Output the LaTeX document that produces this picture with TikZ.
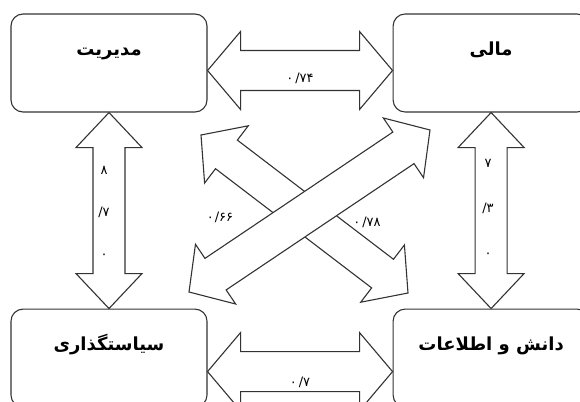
\documentclass[tikz,border=0pt]{standalone}
\usepackage{fontspec}
\usepackage{tikz}
\usetikzlibrary{positioning, calc}
\newfontfamily\arabicfont[Script=Arabic]{DejaVu Sans}
\TeXXeTstate=1

% hollow two-headed block arrow: ends #1 #2, head length #3,
% head half width #4, shaft half width #5
\newcommand{\blockarrow}[5]{%
  \draw[blk] (#1)
    -- ($(#1)!#3!(#2)!#4!90:(#2)$)
    -- ($(#1)!#3!(#2)!#5!90:(#2)$)
    -- ($(#2)!#3!(#1)!#5!-90:(#1)$)
    -- ($(#2)!#3!(#1)!#4!-90:(#1)$)
    -- (#2)
    -- ($(#2)!#3!(#1)!#4!90:(#1)$)
    -- ($(#2)!#3!(#1)!#5!90:(#1)$)
    -- ($(#1)!#3!(#2)!#5!-90:(#2)$)
    -- ($(#1)!#3!(#2)!#4!-90:(#2)$)
    -- cycle;}

\begin{document}
\begin{tikzpicture}[
  x=1pt, y=-1pt,
  box/.style={draw=black!80, line width=1.1pt, rounded corners=12pt,
              minimum width=196pt, minimum height=98pt,
              text height=12pt, text depth=27pt,
              font=\arabicfont\bfseries\fontsize{18}{20}\selectfont},
  blk/.style={draw=black!80, line width=1.1pt, fill=white, line join=miter},
  val/.style={font=\arabicfont\fontsize{13}{15}\selectfont, inner sep=1pt}
]
  \useasboundingbox (0,0) rectangle (580,401);

  \node[box] (mgmt) at (109,63) {\beginR مدیریت\endR};
  \node[box, right=185pt of mgmt] (fin) {\beginR مالی\endR};
  \node[box, below=196pt of mgmt] (pol) {\beginR سیاستگذاری\endR};
  \node[box, below=196pt of fin] (know) {\beginR دانش و اطلاعات\endR};

  % ends of the block arrows
  \coordinate (mf1) at ([yshift=-7.5pt]mgmt.east);
  \coordinate (mf2) at ([yshift=-7.5pt]fin.west);
  \coordinate (pk1) at ([yshift=-13.5pt]pol.east);
  \coordinate (pk2) at ([yshift=-13.5pt]know.west);
  \coordinate (d1a) at (201,135);
  \coordinate (d1b) at (408,293);
  \coordinate (d2a) at (189,292);
  \coordinate (d2b) at (430,130);

  \blockarrow{mf1}{mf2}{33pt}{39pt}{20pt}
  \blockarrow{pk1}{pk2}{33pt}{39pt}{20pt}
  \blockarrow{mgmt.south}{pol.north}{35pt}{33pt}{16pt}
  \blockarrow{fin.south}{know.north}{35pt}{33pt}{16pt}
  \blockarrow{d1a}{d1b}{32pt}{36pt}{18pt}
  \blockarrow{d2a}{d2b}{32pt}{36pt}{19pt}

  \node[val] (lmf) at (300,78) {۰\kern2pt/\kern0pt۷۴};
  \node[val] (lpk) at (300,382) {۰\kern2pt/\kern0pt۷};
  \node[val] (lpf) at (220,217) {۰\kern1pt/\kern0pt۶۶};
  \node[val] (lmk) at (367,222) {۰\kern2pt/\kern0pt۷۸};
  \node[val, align=center] (lmp) at (104,212) {۸\\[27pt]/\kern0pt۷\\[27pt]۰};
  \node[val, align=center] (lfk) at (488,208) {۷\\[30pt]/\kern0pt۳\\[30pt]۰};
\end{tikzpicture}
\end{document}
